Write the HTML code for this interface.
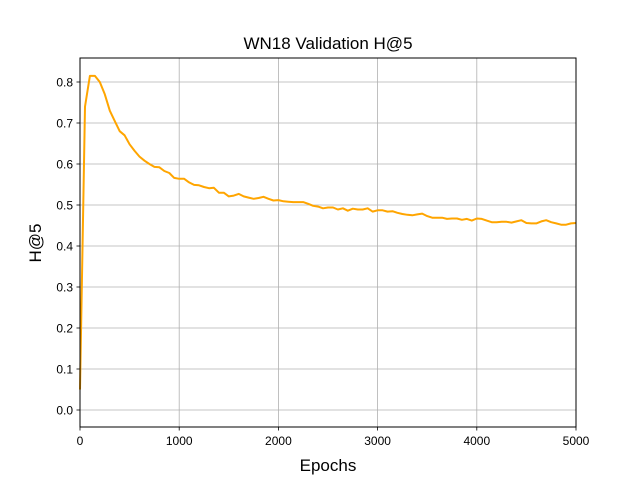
<!DOCTYPE html>
<html><head><meta charset="utf-8"><style>
body{margin:0;background:#fff}
svg text{font-family:"Liberation Sans","DejaVu Sans",sans-serif;fill:#000}
</style></head><body>
<svg id="chart" width="640" height="480" xmlns="http://www.w3.org/2000/svg">
<rect width="640" height="480" fill="#fff"/>
<g id="grid"></g>
<g id="ticks"></g>
<path id="line" fill="none" stroke="#ffa500" stroke-width="2" stroke-linejoin="round"/>
<rect x="80" y="58" width="496" height="369" fill="none" stroke="#000" stroke-width="1"/>
<text x="328" y="49" font-size="17" text-anchor="middle">WN18 Validation H@5</text>
<text x="328" y="471" font-size="17" text-anchor="middle">Epochs</text>
<text x="41" y="243" font-size="17" text-anchor="middle" transform="rotate(-90 41 243)">H@5</text>
</svg>
<script>
const epochs=[0,50,100,150,200,250,300,350,400,450,500,550,600,650,700,750,800,850,900,950,1000,1050,1100,1150,1200,1250,1300,1350,1400,1450,1500,1550,1600,1650,1700,1750,1800,1850,1900,1950,2000,2050,2100,2150,2200,2250,2300,2350,2400,2450,2500,2550,2600,2650,2700,2750,2800,2850,2900,2950,3000,3050,3100,3150,3200,3250,3300,3350,3400,3450,3500,3550,3600,3650,3700,3750,3800,3850,3900,3950,4000,4050,4100,4150,4200,4250,4300,4350,4400,4450,4500,4550,4600,4650,4700,4750,4800,4850,4900,4950,5000];
const h5=[0.05,0.74,0.815,0.815,0.80,0.77,0.73,0.705,0.68,0.67,0.648,0.632,0.618,0.608,0.600,0.593,0.592,0.583,0.578,0.566,0.564,0.564,0.555,0.549,0.548,0.544,0.541,0.542,0.530,0.530,0.521,0.523,0.527,0.521,0.518,0.515,0.517,0.520,0.515,0.511,0.512,0.509,0.508,0.507,0.507,0.507,0.503,0.498,0.496,0.492,0.494,0.494,0.489,0.492,0.486,0.491,0.489,0.489,0.492,0.484,0.487,0.487,0.484,0.485,0.481,0.478,0.476,0.475,0.477,0.479,0.473,0.469,0.469,0.469,0.466,0.467,0.467,0.464,0.466,0.462,0.467,0.466,0.462,0.458,0.458,0.459,0.459,0.457,0.460,0.463,0.456,0.455,0.455,0.460,0.463,0.458,0.455,0.452,0.452,0.455,0.456];
const xTicks=[0,1000,2000,3000,4000,5000];
const yTicks=[0.0,0.1,0.2,0.3,0.4,0.5,0.6,0.7,0.8];
const X=v=>80+v/5000*496;
const Y=v=>410-v*410;
const NS="http://www.w3.org/2000/svg";
const grid=document.getElementById('grid'),ticks=document.getElementById('ticks');
function mk(tag,attrs,parent){const e=document.createElementNS(NS,tag);for(const k in attrs)e.setAttribute(k,attrs[k]);parent.appendChild(e);return e;}
xTicks.forEach(t=>{
 const g=mk('line',{x1:X(t),x2:X(t),y1:58,y2:427,stroke:'#b0b0b0','stroke-width':0.8},grid);
 
 
 mk('line',{x1:X(t),x2:X(t),y1:427,y2:430.5,stroke:'#000','stroke-width':0.8},ticks);
 const tx=mk('text',{x:X(t),y:445,'font-size':12,'text-anchor':'middle'},ticks);
 tx.textContent=t;
 
 
});
yTicks.forEach(t=>{
 const g=mk('line',{x1:80,x2:576,y1:Y(t),y2:Y(t),stroke:'#b0b0b0','stroke-width':0.8},grid);
 
 
 mk('line',{x1:76.5,x2:80,y1:Y(t),y2:Y(t),stroke:'#000','stroke-width':0.8},ticks);
 const tx=mk('text',{x:73,y:Y(t)+4.5,'font-size':12,'text-anchor':'end'},ticks);
 tx.textContent=t.toFixed(1);
 
 
});
document.getElementById('line').setAttribute('d',epochs.map((e,i)=>(i?'L':'M')+X(e).toFixed(1)+','+Y(h5[i]).toFixed(1)).join(''));
</script>
</body></html>
